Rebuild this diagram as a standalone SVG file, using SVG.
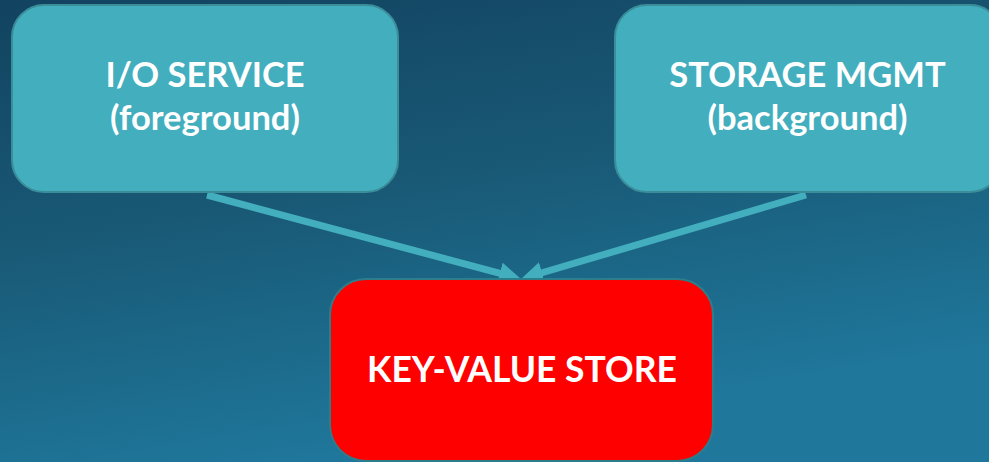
<svg xmlns="http://www.w3.org/2000/svg" width="989" height="462" viewBox="0 0 989 462">
  <defs>
    <linearGradient id="bg" x1="0" y1="0" x2="0.35" y2="1">
      <stop offset="0" stop-color="#124360"/>
      <stop offset="0.5" stop-color="#195a77"/>
      <stop offset="1" stop-color="#1f789c"/>
    </linearGradient>
    <marker id="arrow" markerUnits="userSpaceOnUse" viewBox="0 0 22 22" markerWidth="22" markerHeight="22" refX="8" refY="11" orient="auto">
      <path d="M0,0 L22,11 L0,22 z" fill="#42aebe"/>
    </marker>
  </defs>
  <style>
    .box { fill: #42aebe; stroke: #3a8d99; stroke-width: 2; }
    .red { fill: #ff0000; stroke: #2d7d8a; stroke-width: 2; }
    .label { font-family: Lato, "Open Sans", "Liberation Sans", sans-serif; font-weight: bold; fill: #ffffff; text-anchor: middle; font-size: 34.5px; }
    .kv { font-size: 35.5px; }
    .conn { stroke: #42aebe; stroke-width: 7; fill: none; marker-end: url(#arrow); }
  </style>
  <rect x="0" y="0" width="989" height="462" fill="url(#bg)"/>
  <g id="connectors">
    <line class="conn" x1="207" y1="195" x2="507.5" y2="275.4"/>
    <line class="conn" x1="806" y1="195" x2="534.4" y2="275"/>
  </g>
  <g id="io-service">
    <rect class="box" x="12" y="5" width="386" height="187" rx="32" ry="32"/>
    <text class="label" x="205" y="87">I/O SERVICE</text>
    <text class="label" x="205" y="130">(foreground)</text>
  </g>
  <g id="storage-mgmt">
    <rect class="box" x="615" y="5" width="387" height="187" rx="32" ry="32"/>
    <text class="label" x="807.5" y="87">STORAGE MGMT</text>
    <text class="label" x="807.5" y="130">(background)</text>
  </g>
  <g id="key-value-store">
    <rect class="red" x="330" y="279" width="383" height="182" rx="36" ry="36"/>
    <text class="label kv" x="522" y="382">KEY-VALUE STORE</text>
  </g>
</svg>
